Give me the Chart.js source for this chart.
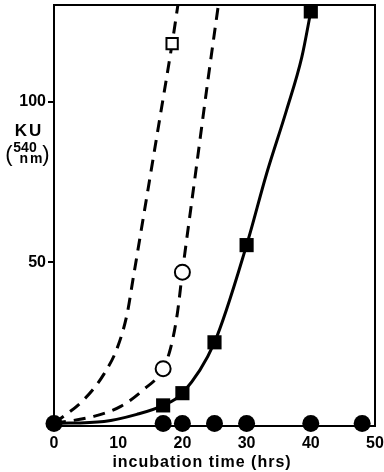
<!DOCTYPE html>
<html lang="en">
<head>
  <meta charset="UTF-8">
  <title>KU vs incubation time</title>
  <script src="https://cdn.jsdelivr.net/npm/chart.js"></script>
  <style>
    body { margin: 0; background: #fff; }
    #wrap { width: 384px; height: 472px; }
  </style>
</head>
<body>
  <div id="wrap"><canvas id="kuChart"></canvas></div>

  <script>
// values (hours, KU at 540 nm)
const sqHours = [17, 20, 25, 30, 40];
const sqKU = [5.6, 9.4, 25.2, 55.4, 128];

const openCircHours = [17, 20];
const openCircKU = [17, 47];

const openSqHours = [18.4];
const openSqKU = [118];

const dotHours = [0, 17, 20, 25, 30, 40, 48];
const dotKU = [0, 0, 0, 0, 0, 0, 0];

// curves
const solidHours = [0, 7.8, 12.9, 17, 20, 25, 30, 33.1, 36.2, 38.6, 40];
const solidKU = [0, 0.6, 2.8, 5.6, 9.4, 25.2, 55.4, 77.5, 97.2, 113.8, 128];

const dashLeftHours = [0, 4.7, 7.8, 9.9, 11.4, 12.3, 14.5, 16.5, 18.4, 19.3];
const dashLeftKU = [0, 7.5, 15.4, 23.7, 34.1, 44.7, 71, 95, 118, 130];

const dashMidHours = [0, 6.2, 10.4, 14, 17, 18.2, 19.2, 20, 22, 24, 25.6];
const dashMidKU = [0, 2.2, 5.3, 10.6, 17, 23.7, 34, 47, 77, 107, 130];

const xTicks = [0, 10, 20, 30, 40, 50];
const yTicks = [50, 100];

const pts = (xs, ys) => xs.map((x, i) => ({ x: x, y: ys[i] }));

const FONT = "'Liberation Sans', Arial, sans-serif";

// frame on top/right plus the axis title and the KU label
const extras = {
  id: 'extras',
  beforeDatasetsDraw(chart) {
    const { ctx, chartArea: a } = chart;
    ctx.save();
    ctx.strokeStyle = '#000';
    ctx.lineWidth = 2;
    ctx.beginPath();
    ctx.moveTo(a.left, a.top);
    ctx.lineTo(a.right, a.top);
    ctx.lineTo(a.right, a.bottom);
    ctx.stroke();
    ctx.restore();
  },
  afterDraw(chart) {
    const ctx = chart.ctx;
    ctx.save();
    ctx.fillStyle = '#000';
    ctx.textAlign = 'center';
    ctx.textBaseline = 'alphabetic';

    ctx.font = 'bold 16px ' + FONT;
    ctx.letterSpacing = '1px';
    ctx.fillText('incubation time (hrs)', 202, 467);

    ctx.font = 'bold 17px ' + FONT;
    ctx.letterSpacing = '2px';
    ctx.fillText('KU', 29, 136);

    ctx.letterSpacing = '0px';
    ctx.font = '22px ' + FONT;
    ctx.fillText('(', 9, 161);
    ctx.fillText(')', 46, 161);

    ctx.font = 'bold 14px ' + FONT;
    ctx.fillText('540', 25, 152);
    ctx.letterSpacing = '2px';
    ctx.font = 'bold 14px ' + FONT;
    ctx.fillText('nm', 32, 163);
    ctx.restore();
  }
};

const ctx = document.getElementById('kuChart').getContext('2d');
new Chart(ctx, {
  type: 'line',
  data: {
    datasets: [
      {
        data: pts(dotHours, dotKU),
        showLine: false,
        pointStyle: 'circle',
        pointRadius: 8.5,
        backgroundColor: '#000',
        borderColor: '#000',
        borderWidth: 0,
        clip: false
      },
      {
        data: pts(sqHours, sqKU),
        showLine: false,
        pointStyle: 'rect',
        pointRadius: 10,
        backgroundColor: '#000',
        borderColor: '#000',
        borderWidth: 0,
        clip: false
      },
      {
        data: pts(openCircHours, openCircKU),
        showLine: false,
        pointStyle: 'circle',
        pointRadius: 7.5,
        backgroundColor: '#fff',
        borderColor: '#000',
        borderWidth: 2,
        clip: false
      },
      {
        data: pts(openSqHours, openSqKU),
        showLine: false,
        pointStyle: 'rect',
        pointRadius: 8,
        backgroundColor: '#fff',
        borderColor: '#000',
        borderWidth: 2,
        clip: false
      },
      {
        data: pts(solidHours, solidKU),
        borderColor: '#000',
        borderWidth: 3,
        pointRadius: 0,
        cubicInterpolationMode: 'monotone',
        fill: false
      },
      {
        data: pts(dashLeftHours, dashLeftKU),
        borderColor: '#000',
        borderWidth: 3,
        borderDash: [12, 8],
        pointRadius: 0,
        cubicInterpolationMode: 'monotone',
        fill: false
      },
      {
        data: pts(dashMidHours, dashMidKU),
        borderColor: '#000',
        borderWidth: 3,
        borderDash: [12, 8],
        pointRadius: 0,
        cubicInterpolationMode: 'monotone',
        fill: false
      }
    ]
  },
  options: {
    responsive: true,
    maintainAspectRatio: false,
    animation: false,
    layout: { autoPadding: false, padding: { top: 5, right: 9, left: 0, bottom: 0 } },
    plugins: {
      legend: { display: false },
      tooltip: { enabled: false }
    },
    scales: {
      x: {
        type: 'linear',
        min: 0,
        max: 50,
        afterBuildTicks: s => { s.ticks = xTicks.map(v => ({ value: v })); },
        afterFit: s => {
          s.height = 46;
          s.paddingLeft = 0;
          s.paddingRight = 0;
        },
        grid: { display: false, drawTicks: false, tickLength: 0 },
        border: { display: true, color: '#000', width: 2 },
        ticks: {
          padding: 8,
          color: '#000',
          font: { family: FONT, size: 16, weight: 'bold' }
        }
      },
      y: {
        type: 'linear',
        min: -0.8,
        max: 130,
        afterBuildTicks: s => { s.ticks = yTicks.map(v => ({ value: v })); },
        afterFit: s => {
          s.width = 54;
          s.paddingTop = 0;
          s.paddingBottom = 0;
        },
        grid: {
          drawOnChartArea: false,
          drawTicks: true,
          tickLength: 6,
          color: '#000',
          lineWidth: 2
        },
        border: { display: true, color: '#000', width: 2 },
        ticks: {
          padding: 2,
          color: '#000',
          font: { family: FONT, size: 16, weight: 'bold' }
        }
      }
    }
  },
  plugins: [extras]
});
  </script>
</body>
</html>
